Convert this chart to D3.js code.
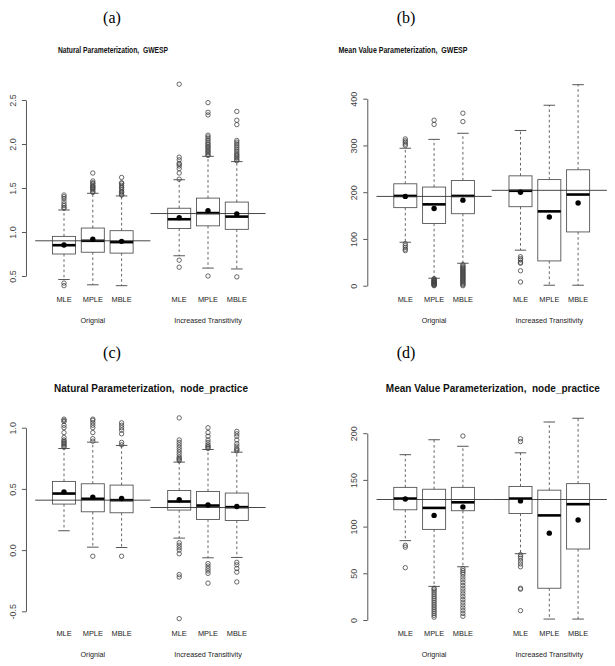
<!DOCTYPE html>
<html><head><meta charset="utf-8">
<script src="https://cdn.jsdelivr.net/npm/d3@7"></script>
<style>body{margin:0;background:#fff}svg{display:block}</style>
</head><body>
<svg id="c" width="615" height="666"></svg>
<script>
// ---------- DATA ----------
const estimators = ["MLE", "MPLE", "MBLE"];
const groups = ["Orignial", "Increased Transitivity"];
const positions = [1, 2, 3, 5, 6, 7];
const tags = ["(a)", "(b)", "(c)", "(d)"];

// Panel (a) Natural Parameterization, GWESP
const aTitle = "Natural Parameterization,  GWESP";
const aTicks = [0.5, 1.0, 1.5, 2.0, 2.5];
const aTickLabels = ["0.5", "1.0", "1.5", "2.0", "2.5"];
const aLo = [0.46, 0.40, 0.39, 0.73, 0.59, 0.58];
const aQ1 = [0.75, 0.77, 0.76, 1.04, 1.07, 1.03];
const aMed = [0.85, 0.90, 0.885, 1.145, 1.215, 1.175];
const aQ3 = [0.95, 1.045, 1.015, 1.27, 1.385, 1.34];
const aHi = [1.25, 1.44, 1.41, 1.594, 1.86, 1.80];
const aMean = [0.852, 0.917, 0.894, 1.163, 1.242, 1.205];
const aRef = [0.90, 1.21];
const aOut = [
  [1.27, 1.28, 1.30, 1.32, 1.35, 1.38, 1.40, 1.42, 0.42, 0.39],
  [1.45, 1.46, 1.48, 1.49, 1.50, 1.51, 1.52, 1.53, 1.55, 1.56, 1.58, 1.67],
  [1.42, 1.43, 1.45, 1.46, 1.48, 1.50, 1.51, 1.53, 1.55, 1.56, 1.62],
  [1.60, 1.67, 1.72, 1.75, 1.77, 1.78, 1.82, 1.85, 2.68, 0.68, 0.60],
  [1.87, 1.88, 1.90, 1.91, 1.93, 1.94, 1.96, 1.97, 1.99, 2.00, 2.02, 2.04, 2.06, 2.08, 2.10, 2.33, 2.36, 2.47, 0.50],
  [1.81, 1.82, 1.84, 1.85, 1.87, 1.88, 1.90, 1.92, 1.94, 1.96, 1.98, 2.00, 2.02, 2.04, 2.22, 2.27, 2.37, 0.49]
];

// Panel (b) Mean Value Parameterization, GWESP
const bTitle = "Mean Value Parameterization,  GWESP";
const bTicks = [0, 100, 200, 300, 400];
const bTickLabels = ["0", "100", "200", "300", "400"];
const bLo = [93, 16, 48, 76, 1, 1];
const bQ1 = [167, 133, 154, 169, 53, 115];
const bMed = [192, 174, 192, 203, 159, 195];
const bQ3 = [218, 211, 225, 235, 227, 248];
const bHi = [294, 313, 326, 332, 386, 430];
const bMean = [191, 165, 183, 200, 147, 177];
const bRef = [191, 204];
const bOut = [
  [300, 303, 307, 310, 314, 90, 86, 82, 78, 75],
  [345, 354, 15, 14, 12, 11, 10, 9, 8, 7, 6, 5, 4, 3, 2, 1, 0],
  [351, 369, 45, 42, 40, 38, 36, 34, 32, 30, 28, 26, 24, 22, 20, 18, 16, 14, 12, 10, 8, 6, 4, 2, 0],
  [62, 58, 55, 50, 48, 32, 8],
  [],
  []
];

// Panel (c) Natural Parameterization, node_practice
const cTitle = "Natural Parameterization,  node_practice";
const cTicks = [-0.5, 0.0, 0.5, 1.0];
const cTickLabels = ["-0.5", "0.0", "0.5", "1.0"];
const cLo = [0.158, 0.024, 0.021, 0.098, -0.063, -0.06];
const cQ1 = [0.376, 0.313, 0.305, 0.327, 0.25, 0.242];
const cMed = [0.462, 0.419, 0.408, 0.397, 0.364, 0.351];
const cQ3 = [0.561, 0.542, 0.531, 0.487, 0.479, 0.466];
const cHi = [0.83, 0.882, 0.855, 0.719, 0.822, 0.80];
const cMean = [0.476, 0.433, 0.422, 0.411, 0.368, 0.356];
const cRef = [0.408, 0.348];
const cOut = [
  [0.84, 0.85, 0.86, 0.87, 0.88, 0.89, 0.90, 0.92, 0.96, 1.00, 1.02, 1.05, 1.06, 1.07],
  [0.89, 0.91, 0.96, 1.00, 1.02, 1.04, 1.06, 1.07, -0.05],
  [0.86, 0.88, 0.95, 0.98, 1.00, 1.02, 1.04, -0.05],
  [0.73, 0.74, 0.75, 0.76, 0.78, 0.80, 0.82, 0.84, 0.86, 0.88, 0.90, 1.08, 0.06, 0.04, 0.02, 0.00, -0.03, -0.20, -0.22, -0.56],
  [0.83, 0.84, 0.85, 0.86, 0.88, 0.90, 0.93, 0.96, 1.00, -0.11, -0.13, -0.15, -0.17, -0.19, -0.27],
  [0.81, 0.82, 0.83, 0.85, 0.87, 0.90, 0.93, 0.95, 0.97, -0.10, -0.12, -0.15, -0.18, -0.26]
];

// Panel (d) Mean Value Parameterization, node_practice
const dTitle = "Mean Value Parameterization,  node_practice";
const dTicks = [0, 50, 100, 150, 200];
const dTickLabels = ["0", "50", "100", "150", "200"];
const dLo = [85, 36, 57, 71, 1, 1];
const dQ1 = [118, 97, 117, 114, 34, 76];
const dMed = [130, 120, 126, 130, 112, 124];
const dQ3 = [142, 140, 142, 143, 139, 146];
const dHi = [177, 193, 186, 179, 212, 216];
const dMean = [129.5, 112, 121, 127.5, 93, 107];
const dRef = [129, 129];
const dOut = [
  [80, 78, 56],
  [34, 33, 31, 29, 27, 25, 23, 21, 19, 17, 15, 13, 11, 9, 7, 5, 3],
  [197, 55, 53, 51, 49, 46, 43, 40, 37, 34, 31, 28, 25, 22, 19, 16, 13, 10, 7, 4],
  [194, 191, 70, 68, 66, 63, 60, 57, 34, 33, 10],
  [],
  []
];

// ---------- LAYOUT ----------
const unit = 28.8;
const panels = [
  {title: aTitle, ticks: aTicks, labels: aTickLabels, lo: aLo, q1: aQ1, med: aMed, q3: aQ3, hi: aHi, mean: aMean, ref: aRef, out: aOut,
   x1: 64, yPix: [276, 100], catY: 299.5, grpY: 320.5, titleX: 113, titleY: 50, titleLen: 110, titleSize: 9.2, tagX: 112, tagY: 17},
  {title: bTitle, ticks: bTicks, labels: bTickLabels, lo: bLo, q1: bQ1, med: bMed, q3: bQ3, hi: bHi, mean: bMean, ref: bRef, out: bOut,
   x1: 405.3, yPix: [285.7, 98.7], catY: 299.5, grpY: 320.5, titleX: 403, titleY: 50, titleLen: 129, titleSize: 9.2, tagX: 406, tagY: 17},
  {title: cTitle, ticks: cTicks, labels: cTickLabels, lo: cLo, q1: cQ1, med: cMed, q3: cQ3, hi: cHi, mean: cMean, ref: cRef, out: cOut,
   x1: 64, yPix: [611.3, 427.7], catY: 633.5, grpY: 654.5, titleX: 151, titleY: 388.5, titleLen: null, titleSize: 10, tagX: 112, tagY: 352},
  {title: dTitle, ticks: dTicks, labels: dTickLabels, lo: dLo, q1: dQ1, med: dMed, q3: dQ3, hi: dHi, mean: dMean, ref: dRef, out: dOut,
   x1: 405.3, yPix: [620, 433.2], catY: 633.5, grpY: 654.5, titleX: 492.8, titleY: 388.5, titleLen: null, titleSize: 10, tagX: 406, tagY: 352}
];

const svg = d3.select("#c");
svg.append("rect").attr("width", 615).attr("height", 666).attr("fill", "#fff");
const sans = "Liberation Sans, Arial, Helvetica, sans-serif";

panels.forEach((p, pi) => {
  const x = d3.scaleLinear().domain([1, 7]).range([p.x1, p.x1 + 6 * unit]);
  const y = d3.scaleLinear().domain([p.ticks[0], p.ticks[p.ticks.length - 1]]).range(p.yPix);
  const g = svg.append("g");
  const bw = x(1.4) - x(1);   // half box width (boxwex 0.8)
  const sw = x(1.2) - x(1);   // half staple width

  // sub-figure tag
  svg.append("text").attr("x", p.tagX).attr("y", p.tagY).attr("text-anchor", "middle")
    .attr("dominant-baseline", "central")
    .style("font-family", "Liberation Serif, Times New Roman, serif").style("font-size", "16px")
    .text(tags[pi]);

  // title
  const t = svg.append("text").attr("x", p.titleX).attr("y", p.titleY).attr("text-anchor", "middle")
    .attr("dominant-baseline", "central").style("font-family", sans).style("font-weight", "bold")
    .style("font-size", p.titleSize + "px").attr("fill", "#111").style("white-space", "pre").attr("xml:space", "preserve")
    .text(p.title);
  if (p.titleLen) t.attr("textLength", p.titleLen).attr("lengthAdjust", "spacingAndGlyphs");

  // y axis
  const axis = d3.axisLeft(y).tickValues(p.ticks).tickFormat((d, i) => p.labels[i]).tickSize(4).tickSizeOuter(0);
  const ag = g.append("g").attr("transform", `translate(${x(-0.32)},0)`).call(axis);
  ag.select(".domain").attr("stroke", "#444").attr("stroke-width", 0.9);
  ag.selectAll(".tick line").attr("stroke", "#444").attr("stroke-width", 0.9);
  ag.selectAll(".tick text").attr("x", 0).attr("y", 0).attr("dy", null)
    .attr("transform", "translate(-13,0) rotate(-90)")
    .attr("text-anchor", "middle").attr("dominant-baseline", "central")
    .style("font-family", sans).style("font-size", "9px").attr("fill", "#444");

  // boxes
  positions.forEach((pos, i) => {
    const cx = x(pos);
    const bg = g.append("g");
    // whiskers (dashed)
    bg.append("line").attr("x1", cx).attr("x2", cx).attr("y1", y(p.q3[i])).attr("y2", y(p.hi[i]))
      .attr("stroke", "#555").attr("stroke-width", 0.9).attr("stroke-dasharray", "2.6,2.6");
    bg.append("line").attr("x1", cx).attr("x2", cx).attr("y1", y(p.q1[i])).attr("y2", y(p.lo[i]))
      .attr("stroke", "#555").attr("stroke-width", 0.9).attr("stroke-dasharray", "2.6,2.6");
    // staples
    [p.hi[i], p.lo[i]].forEach(v => {
      bg.append("line").attr("x1", cx - sw).attr("x2", cx + sw).attr("y1", y(v)).attr("y2", y(v))
        .attr("stroke", "#444").attr("stroke-width", 0.9);
    });
    // box
    bg.append("rect").attr("x", cx - bw).attr("width", 2 * bw)
      .attr("y", y(p.q3[i])).attr("height", y(p.q1[i]) - y(p.q3[i]))
      .attr("fill", "none").attr("stroke", "#555").attr("stroke-width", 0.9);
    // median
    bg.append("line").attr("x1", cx - bw).attr("x2", cx + bw).attr("y1", y(p.med[i])).attr("y2", y(p.med[i]))
      .attr("stroke", "#000").attr("stroke-width", 2.6);
    // outliers
    bg.selectAll("circle.o").data(p.out[i]).enter().append("circle").attr("class", "o")
      .attr("cx", cx).attr("cy", d => y(d)).attr("r", 2.2)
      .attr("fill", "none").attr("stroke", "#444").attr("stroke-width", 0.8);
  });

  // reference lines (true values)
  p.ref.forEach((v, k) => {
    g.append("line").attr("x1", x(4 * k)).attr("x2", x(4 * k + 4)).attr("y1", y(v)).attr("y2", y(v))
      .attr("stroke", "#333").attr("stroke-width", 0.9);
  });

  // means
  g.selectAll("circle.m").data(p.mean).enter().append("circle").attr("class", "m")
    .attr("cx", (d, i) => x(positions[i])).attr("cy", d => y(d)).attr("r", 2.7).attr("fill", "#000");

  // category labels
  positions.forEach((pos, i) => {
    g.append("text").attr("x", x(pos)).attr("y", p.catY).attr("text-anchor", "middle")
      .attr("dominant-baseline", "central").style("font-family", sans).style("font-size", "7.4px")
      .attr("fill", "#222").text(estimators[i % 3]);
  });
  groups.forEach((gr, k) => {
    g.append("text").attr("x", x(2 + 4 * k)).attr("y", p.grpY).attr("text-anchor", "middle")
      .attr("dominant-baseline", "central").style("font-family", sans).style("font-size", "7.2px")
      .attr("fill", "#222").text(gr);
  });
});
</script>
</body></html>
